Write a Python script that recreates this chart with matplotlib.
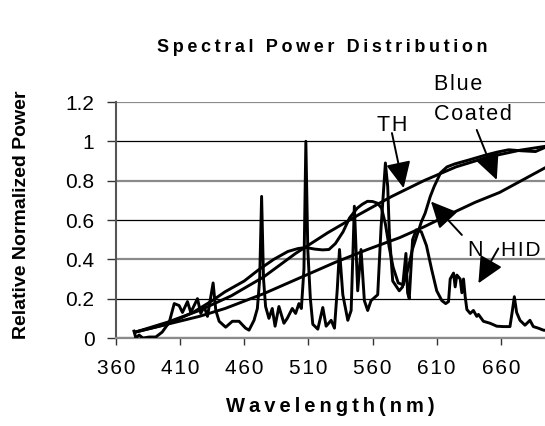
import matplotlib
matplotlib.use('Agg')
import matplotlib.pyplot as plt
from matplotlib.patches import ArrowStyle

plt.rcParams['font.family'] = ['Liberation Sans', 'DejaVu Sans']

# ── Data ─────────────────────────────────────────────────────────────────────
x_ticks = [360, 410, 460, 510, 560, 610, 660]
y_ticks = [0, 0.2, 0.4, 0.6, 0.8, 1.0, 1.2]
y_tick_labels = ['0', '0.2', '0.4', '0.6', '0.8', '1', '1.2']

# TH (tungsten halogen), smooth
th_wl = [375, 400, 425, 450, 475, 500, 525, 550, 575, 600, 625, 650, 675, 700]
th_val = [0.03, 0.08, 0.14, 0.215, 0.31, 0.43, 0.535, 0.63, 0.72, 0.80, 0.87, 0.92, 0.955, 0.98]

# Blue coated, smooth lower curve
bc_wl = [375, 400, 425, 445, 475, 503, 531, 556, 581, 600, 622, 640, 659, 676, 700]
bc_val = [0.03, 0.07, 0.11, 0.15, 0.225, 0.305, 0.385, 0.45, 0.51, 0.565, 0.635, 0.69, 0.74, 0.80, 0.885]

# N, hump then steep rise
n_wl = [375, 400, 420, 435, 445, 460, 471, 483, 494, 502, 508, 515, 521, 526, 531, 537,
        542, 548, 552, 556, 560, 564, 567, 570, 573, 576, 580, 584, 588, 591, 595, 598,
        601, 605, 608, 613, 618, 624, 635, 648, 657, 666, 676, 687, 700]
n_val = [0.03, 0.07, 0.13, 0.19, 0.235, 0.29, 0.346, 0.40, 0.44, 0.455, 0.46, 0.452, 0.448, 0.45, 0.48, 0.54,
         0.61, 0.66, 0.68, 0.695, 0.694, 0.685, 0.66, 0.58, 0.46, 0.36, 0.28, 0.27, 0.36, 0.45, 0.53, 0.59,
         0.635, 0.72, 0.77, 0.84, 0.87, 0.885, 0.905, 0.93, 0.945, 0.957, 0.952, 0.948, 0.985]

# HID, line spectrum
hid_wl = [374, 375.5, 378, 381, 386, 391, 396, 401.5, 405.4, 409.2, 411.8, 415.7, 418.3, 420.9,
          423.5, 426.1, 428.7, 431.3, 433.9, 435.7, 437.8, 440.4, 445.5, 450.7, 455.9, 461, 463.7,
          467.6, 470.2, 472, 473.5, 475, 476.6, 479.2, 481.8, 484, 487, 490.9, 493.5, 497.4, 500,
          502.6, 504.5, 506.5, 508, 509.5, 511.5, 513.4, 517.3, 521.2, 523.8, 527.7, 530.3, 532.5,
          534.2, 536.8, 540.7, 543.3, 545.8, 548.4, 551, 553.6, 556.2, 558.8, 564, 566.6, 570,
          571.8, 573.1, 575.7, 580.8, 583.4, 586, 587.3, 588.6, 591.2, 594, 598, 602, 606, 610,
          614, 617, 619.2, 620.5, 623.1, 624.4, 625.7, 628.3, 629.6, 630.9, 632.2, 633.5, 636.1,
          638.6, 641.2, 642.5, 646.4, 651.6, 656.8, 662, 667.1, 669, 670.5, 672.3, 674.9, 678.8,
          682.7, 685.3, 689.2, 693.1, 700]
hid_val = [0.035, 0.0, 0.015, 0.0, 0.005, 0.005, 0.03, 0.08, 0.175, 0.165, 0.13, 0.185, 0.13, 0.165,
           0.20, 0.125, 0.16, 0.11, 0.21, 0.28, 0.14, 0.085, 0.055, 0.085, 0.085, 0.05, 0.04,
           0.09, 0.15, 0.30, 0.72, 0.30, 0.16, 0.10, 0.15, 0.06, 0.16, 0.075, 0.10, 0.15, 0.125,
           0.175, 0.15, 0.35, 1.0, 0.45, 0.20, 0.07, 0.045, 0.155, 0.06, 0.09, 0.05, 0.25,
           0.45, 0.22, 0.09, 0.14, 0.67, 0.24, 0.45, 0.19, 0.14, 0.19, 0.22, 0.56, 0.89,
           0.77, 0.53, 0.29, 0.24, 0.26, 0.43, 0.23, 0.20, 0.50, 0.55, 0.54, 0.47, 0.35, 0.24,
           0.19, 0.175, 0.185, 0.30, 0.33, 0.26, 0.32, 0.30, 0.23, 0.30, 0.21, 0.145, 0.125,
           0.14, 0.11, 0.12, 0.085, 0.075, 0.06, 0.058, 0.058, 0.14, 0.21, 0.13, 0.09, 0.065,
           0.09, 0.058, 0.05, 0.04, 0.035]

THIN = '\u2009'   # wide-ish gap for bold headings
HAIR = '\u200a'   # small gap for the plain labels


def spaced(s, gap):
    return gap.join(s)


# ── Layout ───────────────────────────────────────────────────────────────────
W, H = 545, 426
fig = plt.figure(figsize=(W / 100, H / 100), dpi=100, facecolor='white')
ax = fig.add_axes([116 / W, 88 / H, 449 / W, 236 / H])

for wl, val in [(th_wl, th_val), (bc_wl, bc_val), (n_wl, n_val), (hid_wl, hid_val)]:
    ax.plot(wl, val, color='black', lw=2.1, solid_joinstyle='round', zorder=3)

ax.set_xlim(360, 710)
ax.set_ylim(0, 1.2)
ax.set_xticks(x_ticks)
ax.set_xticklabels([spaced(str(t), HAIR) for t in x_ticks])
ax.set_yticks(y_ticks)
ax.set_yticklabels(y_tick_labels)
ax.tick_params(axis='x', length=5, width=1, color='#333333', pad=10, labelsize=15)
ax.tick_params(axis='y', length=6.5, width=1, color='#333333', pad=9, labelsize=15)

ax.grid(axis='y', zorder=1)
for i, gl in enumerate(ax.yaxis.get_gridlines()):
    if i % 2 == 0:
        gl.set_color('#8a8a8a')
        gl.set_linewidth(1.6)
    else:
        gl.set_color('black')
        gl.set_linewidth(0.9)
ax.set_axisbelow(True)

for side in ['top', 'right']:
    ax.spines[side].set_visible(False)
ax.spines['left'].set_color('#555555')
ax.spines['left'].set_linewidth(1.5)
ax.spines['bottom'].set_color('#8a8a8a')
ax.spines['bottom'].set_linewidth(1.6)

# ── Labels ───────────────────────────────────────────────────────────────────
fig.text(322 / W, 1 - 48 / H, spaced('Spectral Power Distribution', THIN), ha='center',
         va='center', fontsize=13, fontweight='bold')
fig.text(330 / W, 1 - 407 / H, spaced('Wavelength(nm)', THIN), ha='center', va='center',
         fontsize=14.5, fontweight='bold')
fig.text(22 / W, 1 - 215 / H, 'Relative Normalized Power', ha='center', va='center',
         rotation=90, fontsize=14, fontweight='bold')

# ── Annotations ──────────────────────────────────────────────────────────────
ann_kw = dict(fontsize=15.5, color='black', clip_on=False)
ax.text(608, 1.288, spaced('Blue', HAIR), ha='left', va='center', **ann_kw)
ax.text(608, 1.135, spaced('Coated', HAIR), ha='left', va='center', **ann_kw)
ax.text(575, 1.08, spaced('TH', HAIR), ha='center', va='center', **ann_kw)
ax.text(640, 0.444, 'N', ha='center', va='center', **ann_kw)
# kept just inside the right edge of the picture
ax.text(691, 0.444, spaced('HID', HAIR), ha='right', va='center',
        **{**ann_kw, 'fontsize': 15})

head = ArrowStyle('-|>', head_length=0.95, head_width=0.45)
arrows = [((656.8, 0.804), (641.2, 1.058)),   # Blue Coated
          ((584.2, 0.762), (575.1, 1.042)),   # TH
          ((605.5, 0.694), (629.6, 0.524)),   # N
          ((642.5, 0.278), (658.0, 0.455))]   # HID
for tip, tail in arrows:
    ax.annotate('', xy=tip, xytext=tail,
                arrowprops=dict(arrowstyle=head, mutation_scale=17, color='black',
                                lw=1.4, shrinkA=0, shrinkB=0), zorder=5)

fig.savefig('out.png', dpi=100)
